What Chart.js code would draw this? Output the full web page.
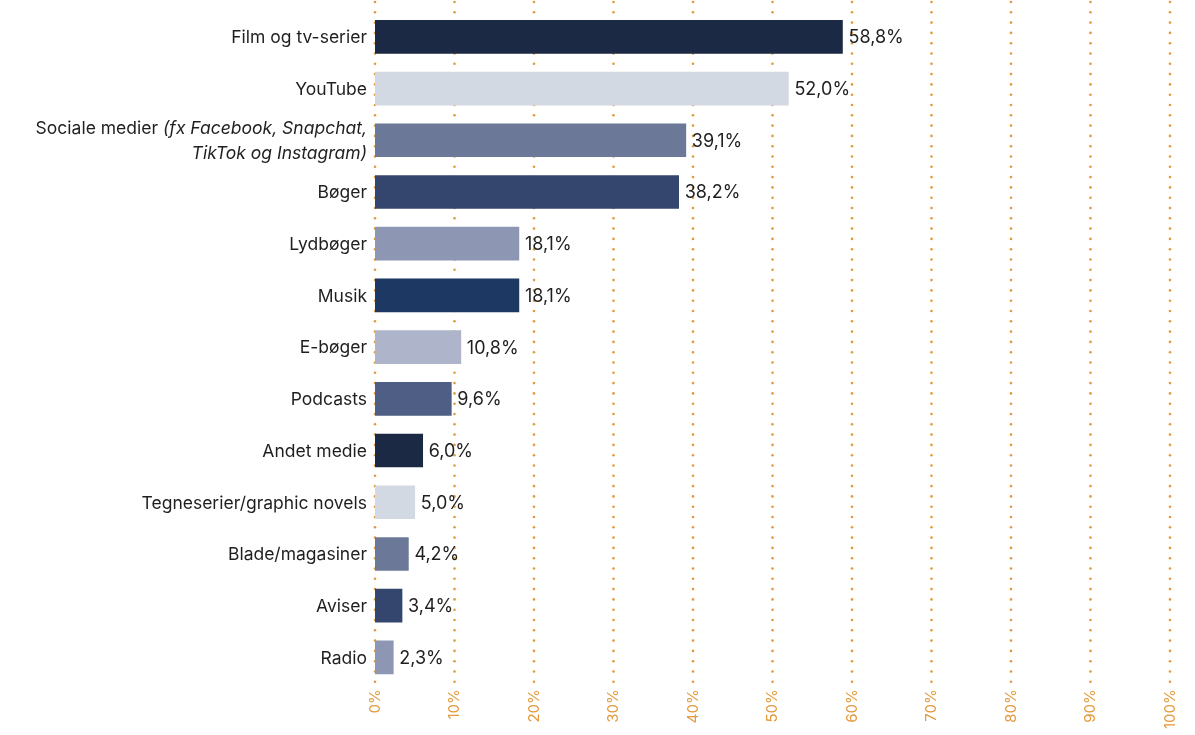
<!DOCTYPE html>
<html>
<head>
<meta charset="utf-8">
<script src="https://cdn.jsdelivr.net/npm/chart.js@4/dist/chart.umd.min.js"></script>
<style>
  html, body { margin: 0; padding: 0; background: #fff; }
  .wrap { width: 1195px; height: 735px; position: relative; }
</style>
</head>
<body>
<div class="wrap"><canvas id="mediaChart"></canvas></div>
<script>
// data
const categories = [
    'Film og tv-serier',
    'YouTube',
    ['Sociale medier (fx Facebook, Snapchat,', 'TikTok og Instagram)'],
    'Bøger',
    'Lydbøger',
    'Musik',
    'E-bøger',
    'Podcasts',
    'Andet medie',
    'Tegneserier/graphic novels',
    'Blade/magasiner',
    'Aviser',
    'Radio'
];
const shares = [58.8, 52.0, 39.1, 38.2, 18.1, 18.1, 10.8, 9.6, 6.0, 5.0, 4.2, 3.4, 2.3];
const barColors = [
    '#1b2944', '#d2d9e3', '#6b7898', '#34466d', '#8d97b3', '#1d3862', '#aeb5ca',
    '#4f5e85', '#1b2944', '#d2d9e3', '#6b7898', '#34466d', '#8d97b3'
];
const xTicks = [0, 10, 20, 30, 40, 50, 60, 70, 80, 90, 100];

const FONT = 'Inter, "Open Sans", sans-serif';
const ORANGE = '#e39a3c';

// dotted orange grid, full height
const dottedGrid = {
    id: 'dottedGrid',
    beforeDatasetsDraw(chart) {
        const { ctx, chartArea, scales } = chart;
        ctx.save();
        ctx.fillStyle = ORANGE;
        xTicks.forEach(v => {
            const x = scales.x.getPixelForValue(v);
            for (let y = 2; y <= chartArea.bottom; y += 10.3) {
                ctx.beginPath();
                ctx.arc(x, y, 1.3, 0, Math.PI * 2);
                ctx.fill();
            }
        });
        ctx.restore();
    }
};

// category labels, text in brackets in italics
function drawMixedLine(ctx, text, xRight, y, italicOn) {
    const parts = [];
    let cur = '', it = italicOn;
    for (const ch of text) {
        if (ch === '(' && !it) { if (cur) parts.push([cur, it]); cur = ch; it = true; continue; }
        cur += ch;
        if (ch === ')' && it) { parts.push([cur, it]); cur = ''; it = false; }
    }
    if (cur) parts.push([cur, it]);
    const fontFor = i => (i ? 'italic ' : '') + '17.5px ' + FONT;
    let total = 0;
    parts.forEach(p => { ctx.font = fontFor(p[1]); total += ctx.measureText(p[0]).width; });
    let x = xRight - total;
    parts.forEach(p => {
        ctx.font = fontFor(p[1]);
        ctx.fillText(p[0], x, y);
        x += ctx.measureText(p[0]).width;
    });
    return it;
}

const labelsPlugin = {
    id: 'labelsPlugin',
    afterDatasetsDraw(chart) {
        const { ctx, chartArea, scales } = chart;
        ctx.save();
        ctx.fillStyle = '#1f1f1f';
        ctx.textBaseline = 'middle';
        ctx.textAlign = 'left';
        categories.forEach((lab, i) => {
            const yc = scales.y.getPixelForValue(i);
            const lines = Array.isArray(lab) ? lab : [lab];
            const lh = 25;
            let italic = false;
            lines.forEach((ln, k) => {
                const y = yc + (k - (lines.length - 1) / 2) * lh + 1;
                italic = drawMixedLine(ctx, ln, chartArea.left - 8, y, italic);
            });
        });
        // value labels
        ctx.font = '18px ' + FONT;
        const meta = chart.getDatasetMeta(0);
        meta.data.forEach((bar, i) => {
            const txt = shares[i].toFixed(1).replace('.', ',') + '%';
            ctx.fillText(txt, bar.x + 6, bar.y + 1);
        });
        ctx.restore();
    }
};

const ctx = document.getElementById('mediaChart').getContext('2d');

new Chart(ctx, {
    type: 'bar',
    data: {
        labels: categories,
        datasets: [{
            data: shares,
            backgroundColor: barColors,
            borderWidth: 0,
            barThickness: 33
        }]
    },
    options: {
        indexAxis: 'y',
        responsive: true,
        maintainAspectRatio: false,
        animation: false,
        layout: {
            padding: { left: 375, right: 25, top: 11, bottom: 0 }
        },
        plugins: {
            legend: { display: false },
            tooltip: { enabled: false }
        },
        scales: {
            x: {
                min: 0,
                max: 100,
                afterBuildTicks(axis) {
                    axis.ticks = xTicks.map(v => ({ value: v }));
                },
                grid: { display: false, drawTicks: false },
                border: { display: false },
                ticks: {
                    color: ORANGE,
                    font: { family: FONT, size: 15 },
                    minRotation: 90,
                    maxRotation: 90,
                    padding: 6,
                    callback: v => v + '%'
                }
            },
            y: {
                display: false
            }
        }
    },
    plugins: [dottedGrid, labelsPlugin]
});
</script>
</body>
</html>
